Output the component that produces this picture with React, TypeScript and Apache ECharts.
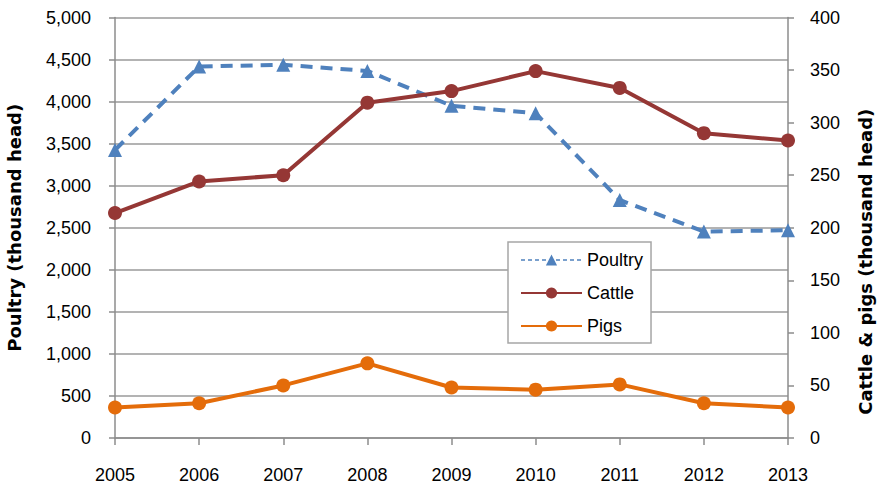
import React, { useEffect, useRef } from "react";
import * as echarts from "echarts";

const years = ["2005", "2006", "2007", "2008", "2009", "2010", "2011", "2012", "2013"];
const poultry = [3425, 4417, 4437, 4365, 3950, 3862, 2830, 2455, 2470];
const cattle = [214, 244, 250, 319, 330, 349, 333, 290, 283];
const pigs = [29, 33, 50, 71, 48, 46, 51, 33, 29];

const BLUE = "#4F81BD";
const RED = "#953735";
const ORANGE = "#E46C0A";
const GRID = "#9a9a9a";
const AXIS = "#8c8c8c";
const TICK_FONT = "'Liberation Sans', Arial, sans-serif";
const TITLE_FONT = "'DejaVu Sans', Verdana, sans-serif";

export default function App() {
  const ref = useRef<HTMLDivElement>(null);
  useEffect(() => {
    if (!ref.current) return;
    const chart = echarts.init(ref.current, undefined, { renderer: "svg" });
    chart.setOption({
      animation: false,
      backgroundColor: "#ffffff",
      grid: {
        left: 115,
        right: 89,
        top: 17.5,
        bottom: 48,
        containLabel: false,
        outerBoundsMode: "none",
      },
      legend: {
        orient: "vertical",
        left: 508,
        top: 242,
        padding: [9, 8, 8, 12],
        itemGap: 15,
        itemWidth: 61,
        itemHeight: 14,
        backgroundColor: "#ffffff",
        borderColor: "#a6a6a6",
        borderWidth: 1.5,
        borderRadius: 0,
        textStyle: { fontFamily: TICK_FONT, fontSize: 18, color: "#000" },
        data: [
          { name: "Poultry", lineStyle: { width: 1.5, type: [4, 3] } },
          { name: "Cattle", lineStyle: { width: 2 } },
          { name: "Pigs", lineStyle: { width: 2 } },
        ],
      },
      xAxis: {
        type: "category",
        data: years,
        boundaryGap: false,
        axisLine: { lineStyle: { color: AXIS, width: 1.5 } },
        axisTick: { show: true, length: 7, inside: false, lineStyle: { color: AXIS, width: 1.5 } },
        axisLabel: { fontFamily: TICK_FONT, fontSize: 18, color: "#000", margin: 28 },
        splitLine: { show: false },
      },
      yAxis: [
        {
          type: "value",
          min: 0,
          max: 5000,
          interval: 500,
          position: "left",
          name: "Poultry (thousand head)",
          nameLocation: "middle",
          nameGap: 92,
          nameRotate: 90,
          nameTextStyle: { fontFamily: TITLE_FONT, fontWeight: "bold", fontSize: 18, color: "#000" },
          axisLine: { show: true, lineStyle: { color: AXIS, width: 1.5 } },
          axisTick: { show: true, length: 6, lineStyle: { color: AXIS, width: 1.5 } },
          axisLabel: {
            fontFamily: TICK_FONT,
            fontSize: 18,
            color: "#000",
            margin: 24,
            formatter: (v: number) => v.toLocaleString("en-US"),
          },
          splitLine: { show: true, lineStyle: { color: GRID, width: 1.5 } },
        },
        {
          type: "value",
          min: 0,
          max: 400,
          interval: 50,
          position: "right",
          name: "Cattle & pigs (thousand head)",
          nameLocation: "middle",
          nameGap: 68,
          nameRotate: 90,
          nameTextStyle: {
            fontFamily: TITLE_FONT,
            fontWeight: "bold",
            fontSize: 18,
            color: "#000",
            padding: [0, 68, 0, 0],
          },
          axisLine: { show: true, lineStyle: { color: AXIS, width: 1.5 } },
          axisTick: { show: true, length: 6, lineStyle: { color: AXIS, width: 1.5 } },
          axisLabel: { fontFamily: TICK_FONT, fontSize: 18, color: "#000", margin: 22 },
          splitLine: { show: false },
        },
      ],
      series: [
        {
          name: "Poultry",
          type: "line",
          yAxisIndex: 0,
          data: poultry,
          symbol: "triangle",
          symbolSize: 14,
          itemStyle: { color: BLUE },
          lineStyle: { color: BLUE, width: 4, type: [12, 8], cap: "butt" },
        },
        {
          name: "Cattle",
          type: "line",
          yAxisIndex: 1,
          data: cattle,
          symbol: "circle",
          symbolSize: 14,
          itemStyle: { color: RED },
          lineStyle: { color: RED, width: 4 },
        },
        {
          name: "Pigs",
          type: "line",
          yAxisIndex: 1,
          data: pigs,
          symbol: "circle",
          symbolSize: 14,
          itemStyle: { color: ORANGE },
          lineStyle: { color: ORANGE, width: 4 },
        },
      ],
    });
    return () => chart.dispose();
  }, []);
  return <div ref={ref} style={{ width: 877, height: 486, position: "fixed", left: 0, top: 0 }} />;
}
